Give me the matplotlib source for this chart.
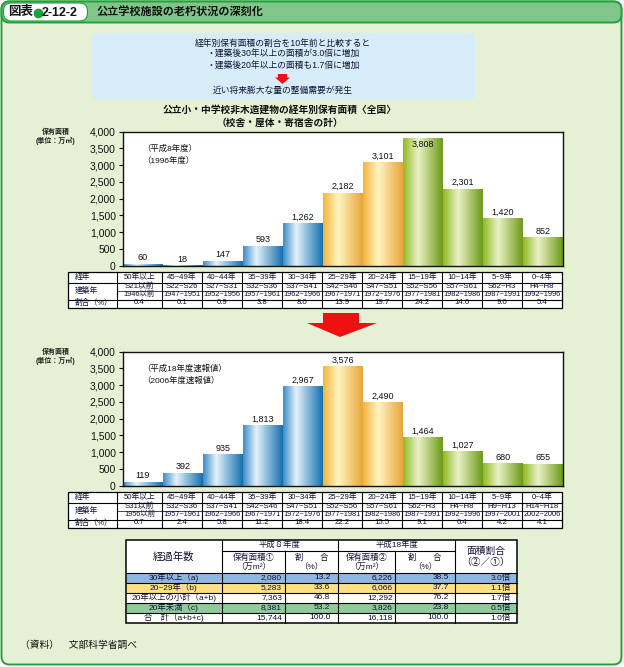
import numpy as np
import matplotlib
matplotlib.use('Agg')
from matplotlib import pyplot as plt
from matplotlib.colors import LinearSegmentedColormap
from matplotlib.patches import FancyBboxPatch, Polygon, Rectangle
from matplotlib.ticker import FuncFormatter

plt.rcParams['font.family'] = ['Liberation Sans', 'Noto Sans CJK JP', 'DejaVu Sans']

# ---- data -------------------------------------------------------------
age_ranges = ['50年以上', '45~49年', '40~44年', '35~39年', '30~34年', '25~29年',
              '20~24年', '15~19年', '10~14年', '5~9年', '0~4年']
bar_groups = ['blue'] * 5 + ['yellow'] * 2 + ['green'] * 4

h8_era = ['S21以前', 'S22~S26', 'S27~S31', 'S32~S36', 'S37~S41', 'S42~S46',
          'S47~S51', 'S52~S56', 'S57~S61', 'S62~H3', 'H4~H8']
h8_year = ['1946以前', '1947~1951', '1952~1956', '1957~1961', '1962~1966', '1967~1971',
           '1972~1976', '1977~1981', '1982~1986', '1987~1991', '1992~1996']
h8_area = [60, 18, 147, 593, 1262, 2182, 3101, 3808, 2301, 1420, 852]
h8_share = [0.4, 0.1, 0.9, 3.8, 8.0, 13.9, 19.7, 24.2, 14.6, 9.0, 5.4]

h18_era = ['S31以前', 'S32~S36', 'S37~S41', 'S42~S46', 'S47~S51', 'S52~S56',
           'S57~S61', 'S62~H3', 'H4~H8', 'H9~H13', 'H14~H18']
h18_year = ['1956以前', '1957~1961', '1962~1966', '1967~1971', '1972~1976', '1977~1981',
            '1982~1986', '1987~1991', '1992~1996', '1997~2001', '2002~2006']
h18_area = [119, 392, 935, 1813, 2967, 3576, 2490, 1464, 1027, 680, 655]
h18_share = [0.7, 2.4, 5.8, 11.2, 18.4, 22.2, 15.5, 9.1, 6.4, 4.2, 4.1]

sum_rows = ['30年以上（a)', '20~29年（b)', '20年以上の小計（a+b)', '20年未満（c)', '合　計（a+b+c)']
sum_h8_area = [2080, 5283, 7363, 8381, 15744]
sum_h8_share = [13.2, 33.6, 46.8, 53.2, 100.0]
sum_h18_area = [6226, 6066, 12292, 3826, 16118]
sum_h18_share = [38.5, 37.7, 76.2, 23.8, 100.0]
sum_ratio = [3.0, 1.1, 1.7, 0.5, 1.0]
sum_row_colors = ['#8FB7E4', '#FFE184', 'white', '#8FCB9C', 'white']

# ---- styles -----------------------------------------------------------
W, H = 624, 667
TXT = '#111133'
gradients = {
    'blue': LinearSegmentedColormap.from_list('b', [(0, '#3A8CC8'), (0.33, '#E4F2FB'), (1, '#1570AE')]),
    'yellow': LinearSegmentedColormap.from_list('y', [(0, '#F2B43C'), (0.38, '#FFF5BE'), (1, '#E8A53A')]),
    'green': LinearSegmentedColormap.from_list('g', [(0, '#8FBA25'), (0.38, '#EAF2C6'), (1, '#6E9B18')]),
}

fig = plt.figure(figsize=(W / 100, H / 100), dpi=100)
bg = fig.add_axes([0, 0, 1, 1], zorder=0)
bg.set_xlim(0, W)
bg.set_ylim(H, 0)
bg.axis('off')

# frame and header
bg.add_patch(FancyBboxPatch((1.5, 1.5), W - 4, H - 4, boxstyle='round,pad=0,rounding_size=8',
                            fc='#E6F0D4', ec='#22A03C', lw=1.4))
bg.add_patch(FancyBboxPatch((1.5, 1.5), W - 4, 21, boxstyle='round,pad=0,rounding_size=8',
                            fc='#80C68A', ec='#22A03C', lw=1.4))
bg.add_patch(FancyBboxPatch((3.5, 3), 84, 18, boxstyle='round,pad=0,rounding_size=8',
                            fc='white', ec='#22A03C', lw=0.8))
bg.text(8, 12.5, '図表', fontsize=9, weight='bold', va='center', color='#111111')
bg.plot([37.5], [12.5], marker='o', markersize=6, color='#1FA040', linestyle='none')
bg.text(42, 12.5, '2-12-2', fontsize=9, weight='bold', va='center', color='#111111')
bg.text(97, 12, '公立学校施設の老朽状況の深刻化', fontsize=8, weight='bold', va='center', color='#111111')

# summary box
bg.add_patch(FancyBboxPatch((92, 33), 383, 67, boxstyle='round,pad=0,rounding_size=6',
                            fc='#D6ECF8', ec='none'))
box_lines = [(43, '経年別保有面積の割合を10年前と比較すると'),
             (54, '・建築後30年以上の面積が3.0倍に増加'),
             (66, '・建築後20年以上の面積も1.7倍に増加'),
             (90, '近い将来膨大な量の整備需要が発生')]
for y, s in box_lines:
    bg.text(283, y, s, fontsize=6.3, ha='center', va='center', color=TXT)
bg.add_patch(Polygon([(278, 74), (287, 74), (287, 77.5), (290, 77.5), (282.5, 84), (275, 77.5), (278, 77.5)],
                     closed=True, fc='#EE1111', ec='none'))

bg.text(280, 110, '公立小・中学校非木造建物の経年別保有面積〈全国〉', fontsize=7, weight='bold',
        ha='center', va='center', color='#111111')
bg.text(280, 122.5, '（校舎・屋体・寄宿舎の計）', fontsize=7, weight='bold',
        ha='center', va='center', color='#111111')

# big arrow between charts
bg.add_patch(Polygon([(323, 313), (359, 313), (359, 323), (377, 323), (340, 337), (307, 323), (323, 323)],
                     closed=True, fc='#EE1111', ec='none'))


def draw_chart(top_px, values, note_lines):
    left, right, bottom_px = 122.7, 562.7, top_px + 134
    ax = fig.add_axes([left / W, 1 - bottom_px / H, (right - left) / W, (bottom_px - top_px) / H], zorder=1)
    x = np.arange(len(values))
    bars = ax.bar(x, values, width=1.0, color='none', edgecolor='none', zorder=1)
    grad = np.linspace(0, 1, 128).reshape(1, -1)
    for patch, grp, v in zip(bars, bar_groups, values):
        x0 = patch.get_x()
        im = ax.imshow(grad, cmap=gradients[grp], extent=[x0, x0 + patch.get_width(), 0, v],
                       aspect='auto', origin='lower', zorder=2, interpolation='bilinear')
        im.set_clip_path(patch)
        if v > 3700:
            ax.text(patch.get_x() + 0.5, v - 60, f'{v:,}', ha='center', va='top', fontsize=6.5, color='#111111', zorder=3)
        else:
            ax.text(patch.get_x() + 0.5, v + 40, f'{v:,}', ha='center', va='bottom', fontsize=6.5, color='#111111', zorder=3)
    ax.set_xlim(-0.5, len(values) - 0.5)
    ax.set_ylim(0, 4000)
    ax.set_yticks(np.arange(0, 4001, 500))
    ax.yaxis.set_major_formatter(FuncFormatter(lambda v, p: f'{int(v):,}'))
    ax.set_xticks([])
    ax.tick_params(axis='y', direction='out', length=3, width=0.8, labelsize=7.5, pad=2, colors='#111111')
    for sp in ax.spines.values():
        sp.set_linewidth(1.0)
        sp.set_color('#111111')
    ax.set_facecolor('white')
    ax.text(0.045, 0.87, note_lines[0], transform=ax.transAxes, fontsize=6, va='center', color='#111111')
    ax.text(0.045, 0.78, note_lines[1], transform=ax.transAxes, fontsize=6, va='center', color='#111111')
    bg.text(56, top_px + 0.5, '保有面積', fontsize=5, weight='bold', ha='center', va='center', color='#222222')
    bg.text(56, top_px + 9.5, '(単位：万㎡)', fontsize=5, weight='bold', ha='center', va='center', color='#222222')
    return ax


def draw_year_table(top, era, years, shares):
    cols = [68, 117] + [162 + 40 * i for i in range(11)]
    r1, r2, r3, bot = top + 10.7, top + 19, top + 27.7, top + 35.7
    bg.add_patch(Rectangle((cols[0], top), cols[-1] - cols[0], bot - top, fc='white', ec='black', lw=0.9))
    for yy in (r1, r3):
        bg.plot([cols[0], cols[-1]], [yy, yy], color='black', lw=0.8)
    bg.plot([cols[1], cols[-1]], [r2, r2], color='black', lw=0.5)
    for xx in cols[1:-1]:
        bg.plot([xx, xx], [top, bot], color='black', lw=0.8)
    fs = 5.6
    dy = -0.7  # nudge text up a little, CJK glyphs sit low
    bg.text(75, (top + r1) / 2 + dy, '経年', fontsize=fs, va='center', color=TXT)
    bg.text(75, (r1 + r3) / 2 + dy, '建築年', fontsize=fs, va='center', color=TXT)
    bg.text(75, (r3 + bot) / 2 + dy, '割合（%）', fontsize=fs, va='center', color=TXT)
    for i in range(11):
        cx = (cols[i + 1] + cols[i + 2]) / 2
        bg.text(cx, (top + r1) / 2 + dy, age_ranges[i], fontsize=fs, ha='center', va='center', color=TXT)
        bg.text(cx, (r1 + r2) / 2 + dy, era[i], fontsize=fs, ha='center', va='center', color=TXT)
        bg.text(cx, (r2 + r3) / 2 + dy, years[i], fontsize=fs - 0.3, ha='center', va='center', color=TXT)
        bg.text(cx, (r3 + bot) / 2 + dy, f'{shares[i]:.1f}', fontsize=fs, ha='center', va='center', color=TXT)


draw_chart(131.7, h8_area, ['（平成8年度）', '（1996年度）'])
draw_year_table(272, h8_era, h8_year, h8_share)
draw_chart(351.7, h18_area, ['（平成18年度速報値）', '（2006年度速報値）'])
draw_year_table(492, h18_era, h18_year, h18_share)

# summary table
sc = [126, 221.7, 285, 338.3, 395, 455, 516.7]
top, mid, hb = 540, 551, 573.3
rh = 10
dy = -0.6
bg.add_patch(Rectangle((sc[0], top), sc[-1] - sc[0], hb - top, fc='white', ec='none'))
for i, colr in enumerate(sum_row_colors):
    y0 = hb + i * rh
    bg.add_patch(Rectangle((sc[0], y0), sc[-1] - sc[0], rh, fc=colr, ec='none'))
    yc = y0 + rh / 2 + dy
    bg.text((sc[0] + sc[1]) / 2, yc, sum_rows[i], fontsize=6, ha='center', va='center', color=TXT)
    bg.text(sc[2] - 3, yc, f'{sum_h8_area[i]:,}', fontsize=6, ha='right', va='center', color=TXT)
    bg.text(sc[3] - 8, yc, f'{sum_h8_share[i]:.1f}', fontsize=6, ha='right', va='center', color=TXT)
    bg.text(sc[4] - 2, yc, f'{sum_h18_area[i]:,}', fontsize=6, ha='right', va='center', color=TXT)
    bg.text(sc[5] - 6, yc, f'{sum_h18_share[i]:.1f}', fontsize=6, ha='right', va='center', color=TXT)
    bg.text(sc[6] - 6, yc, f'{sum_ratio[i]:.1f}倍', fontsize=6, ha='right', va='center', color=TXT)
    bg.plot([sc[0], sc[-1]], [y0, y0], color='black', lw=0.8)
bot = hb + rh * len(sum_rows)
bg.add_patch(Rectangle((sc[0], top), sc[-1] - sc[0], bot - top, fc='none', ec='black', lw=1.1))
bg.plot([sc[1], sc[5]], [mid, mid], color='black', lw=0.8)
for i, xx in enumerate(sc[1:-1], start=1):
    y_start = mid if i in (2, 4) else top
    bg.plot([xx, xx], [y_start, bot], color='black', lw=0.8)
bg.text((sc[0] + sc[1]) / 2, (top + hb) / 2, '経過年数', fontsize=7.5, ha='center', va='center', color=TXT)
bg.text((sc[1] + sc[3]) / 2, (top + mid) / 2 + dy, '平成８年度', fontsize=6, ha='center', va='center', color=TXT)
bg.text((sc[3] + sc[5]) / 2, (top + mid) / 2 + dy, '平成18年度', fontsize=6, ha='center', va='center', color=TXT)
for k, s in enumerate(['保有面積①\n（万m²）', '割　　合\n（%）', '保有面積②\n（万m²）', '割　　合\n（%）']):
    bg.text((sc[k + 1] + sc[k + 2]) / 2, (mid + hb) / 2, s, fontsize=6, ha='center', va='center',
            linespacing=1.0, color=TXT)
bg.text((sc[5] + sc[6]) / 2, (top + hb) / 2, '面積割合\n（②／①）', fontsize=7, ha='center', va='center',
        linespacing=1.1, color=TXT)

bg.text(20, 645, '（資料）　文部科学省調べ', fontsize=7, va='center', color='#111111')

fig.savefig('out.png', dpi=100)
